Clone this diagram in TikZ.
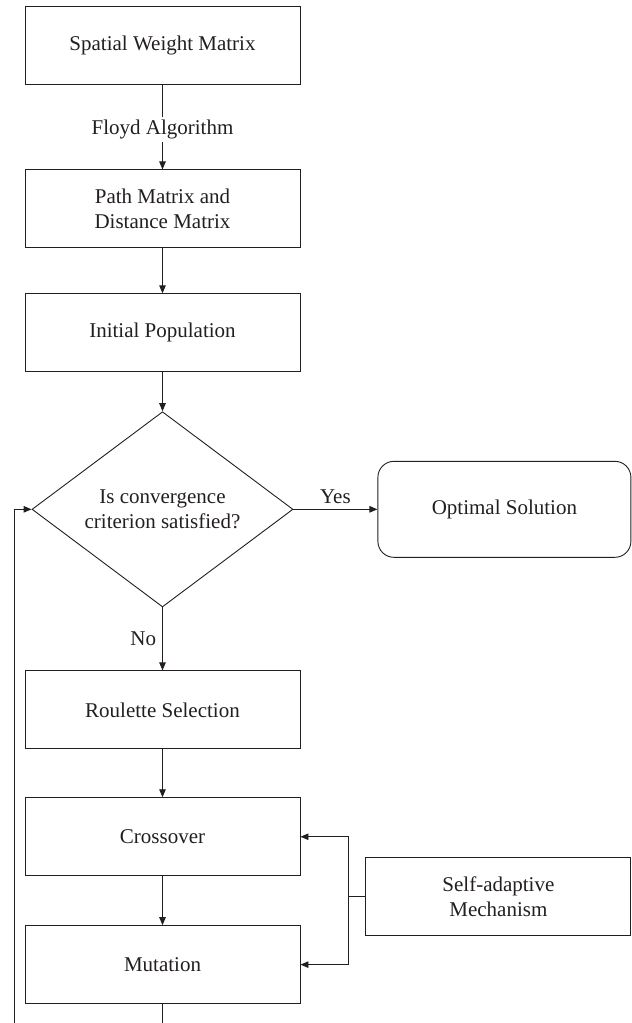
\documentclass[tikz,border=0pt]{standalone}
\usepackage{fontspec}
\setmainfont{Liberation Serif}
\usetikzlibrary{positioning, arrows.meta, shapes.geometric}
\definecolor{inkline}{RGB}{35,31,32}

\begin{document}
\begin{tikzpicture}[
  every node/.style={font=\fontsize{21}{25.5}\selectfont, text=inkline},
  box/.style={
    rectangle, draw=inkline, line width=0.9pt, fill=white,
    minimum width=275pt, minimum height=78pt, align=center, inner sep=4pt
  },
  decision/.style={
    diamond, draw=inkline, line width=0.9pt, fill=white,
    minimum width=261pt, minimum height=195pt, align=center, inner sep=0pt
  },
  terminal/.style={
    rectangle, rounded corners=16pt, draw=inkline, line width=0.9pt,
    minimum width=253pt, minimum height=96pt, align=center
  },
  flow/.style={-{Triangle[length=8pt, width=6.5pt]}, line width=0.9pt, draw=inkline}
]

\useasboundingbox (0,0) rectangle (632pt,-1023pt);
\clip (0,0) rectangle (632pt,-1023pt);

\node[box] (sw) at (162.5pt,-45pt) {Spatial Weight Matrix};

\node[box, below=85pt of sw] (pm) {Path Matrix and\\Distance Matrix};

\node[box, below=45pt of pm] (ip) {Initial Population};

\node[decision, below=39pt of ip] (dec) {Is convergence\\criterion satisfied?};

\node[terminal, right=84pt of dec] (opt) {Optimal Solution};

\node[box, below=63pt of dec] (rs) {Roulette Selection};

\node[box, below=48pt of rs] (co) {Crossover};

\node[box, below=49pt of co] (mu) {Mutation};

\node[box, minimum width=265pt, right=65pt of co, yshift=-60pt] (sa) {Self-adaptive\\Mechanism};

\coordinate (loop) at (14pt,-1060pt);

\draw[flow] (sw) -- node[pos=0.53, fill=white, inner sep=3pt] {Floyd Algorithm} (pm);
\draw[flow] (pm) -- (ip);
\draw[flow] (ip) -- (dec);
\draw[flow] (dec) -- node[above, inner sep=5pt] {Yes} (opt);
\draw[flow] (dec) -- node[left, inner sep=6pt] {No} (rs);
\draw[flow] (rs) -- (co);
\draw[flow] (co) -- (mu);
\draw[flow] (sa.west) -- ++(-17pt,0) coordinate (jn) |- (co.east);
\draw[flow] (jn) |- (mu.east);
\draw[flow] (mu.south) |- (loop) |- (dec.west);

\end{tikzpicture}
\end{document}
